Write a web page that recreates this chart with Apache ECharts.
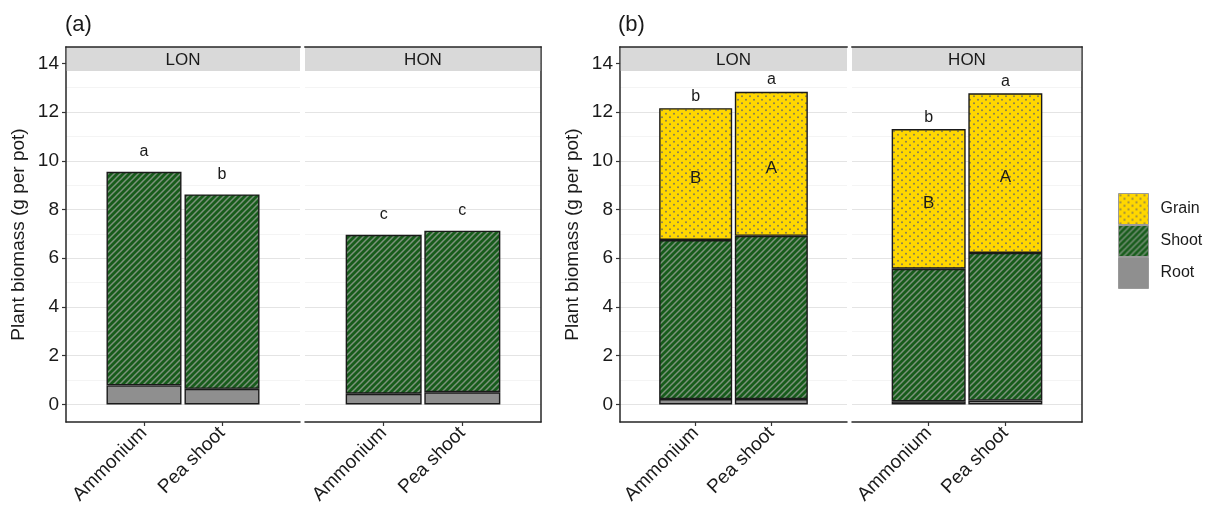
<!DOCTYPE html>
<html>
<head>
<meta charset="utf-8">
<script src="https://cdn.jsdelivr.net/npm/echarts@6/dist/echarts.min.js"></script>
<style>
  html, body { margin: 0; padding: 0; background: #fff; }
  #main { width: 1214px; height: 519px; }
</style>
</head>
<body>
<div id="main"></div>
<script>
// 数据
var categories = ['Ammonium', 'Pea shoot'];
var facetNames = ['LON', 'HON'];
var yTicks = [0, 2, 4, 6, 8, 10, 12, 14];
var yMinorTicks = [1, 3, 5, 7, 9, 11, 13];

// (a) 根 + 茎
var rootA_LON = [0.78, 0.64];
var shootA_LON = [8.77, 7.98];
var lettersA_LON = ['a', 'b'];
var rootA_HON = [0.44, 0.50];
var shootA_HON = [6.52, 6.63];
var lettersA_HON = ['c', 'c'];

// (b) 根 + 茎 + 籽粒
var rootB_LON = [0.22, 0.22];
var shootB_LON = [6.53, 6.70];
var grainB_LON = [5.41, 5.91];
var lettersB_LON = ['b', 'a'];
var grainLettersB_LON = ['B', 'A'];
var rootB_HON = [0.13, 0.16];
var shootB_HON = [5.44, 6.06];
var grainB_HON = [5.73, 6.55];
var lettersB_HON = ['b', 'a'];
var grainLettersB_HON = ['B', 'A'];

(function() {
    var FONT = '"Liberation Sans", Arial, Helvetica, sans-serif';
    var DARK = '#1a1a1a';
    var LINE = '#262626';
    var TOP = 47, BOTTOM = 97, STRIP_H = 24;
    var yMin = -0.72, yMax = 14.67;

    // 斜线填充
    function stripePattern() {
        var s = 6;
        var c = document.createElement('canvas');
        c.width = s; c.height = s;
        var ctx = c.getContext('2d');
        ctx.fillStyle = '#175c1b';
        ctx.fillRect(0, 0, s, s);
        ctx.strokeStyle = '#7c927c';
        ctx.lineWidth = 1.5;
        ctx.beginPath();
        ctx.moveTo(-1, s + 1); ctx.lineTo(s + 1, -1);
        ctx.moveTo(-1, 1); ctx.lineTo(1, -1);
        ctx.moveTo(s - 1, s + 1); ctx.lineTo(s + 1, s - 1);
        ctx.stroke();
        return c;
    }
    // 圆点填充
    function dotPattern() {
        var w = 8, h = 7;
        var c = document.createElement('canvas');
        c.width = w; c.height = h;
        var ctx = c.getContext('2d');
        ctx.fillStyle = '#ffd700';
        ctx.fillRect(0, 0, w, h);
        ctx.fillStyle = '#857c55';
        [[2, 1.75], [6, 5.25]].forEach(function(p) {
            ctx.beginPath();
            ctx.arc(p[0], p[1], 1.0, 0, Math.PI * 2);
            ctx.fill();
        });
        return c;
    }
    var shootFill = { image: stripePattern(), repeat: 'repeat' };
    var grainFill = { image: dotPattern(), repeat: 'repeat' };
    var rootFill = '#8f8f8f';

    // 分面布局
    var facets = [
        { panel: 0, left: 66, right: 300, name: facetNames[0], first: true, last: false,
          root: rootA_LON, shoot: shootA_LON, letters: lettersA_LON },
        { panel: 0, left: 305, right: 541, name: facetNames[1], first: false, last: true,
          root: rootA_HON, shoot: shootA_HON, letters: lettersA_HON },
        { panel: 1, left: 620, right: 847, name: facetNames[0], first: true, last: false,
          root: rootB_LON, shoot: shootB_LON, grain: grainB_LON, letters: lettersB_LON, grainLetters: grainLettersB_LON },
        { panel: 1, left: 852, right: 1082, name: facetNames[1], first: false, last: true,
          root: rootB_HON, shoot: shootB_HON, grain: grainB_HON, letters: lettersB_HON, grainLetters: grainLettersB_HON }
    ];

    // 类别轴两端留空位，使柱子位于 1/3 和 2/3 处
    var axisCats = [''].concat(categories, ['']);

    var grids = [], xAxes = [], yAxes = [], series = [], graphics = [];

    function pad(arr) {
        return ['-'].concat(arr, ['-']);
    }

    facets.forEach(function(f, i) {
        var width = f.right - f.left;
        grids.push({ left: f.left, width: width, top: TOP, bottom: BOTTOM });

        xAxes.push({
            type: 'category', gridIndex: i, data: axisCats, boundaryGap: false,
            axisLine: { show: true, onZero: false, lineStyle: { color: LINE, width: 1.5 } },
            axisTick: {
                show: true, length: 4, lineStyle: { color: '#333', width: 1.2 },
                interval: function(idx) { return idx > 0 && idx <= categories.length; }
            },
            axisLabel: { interval: 0, rotate: 45, fontSize: 19, color: DARK, margin: 8 },
            splitLine: { show: false }
        });

        var majorIdx = yAxes.length;
        yAxes.push({
            type: 'value', gridIndex: i, min: yMin, max: yMax, position: 'left',
            name: f.first ? 'Plant biomass (g per pot)' : '',
            nameLocation: 'middle', nameGap: 38,
            nameTextStyle: { fontSize: 19, color: DARK },
            axisLine: { show: f.first, onZero: false, lineStyle: { color: LINE, width: 1.5 } },
            axisTick: { show: f.first, customValues: yTicks, length: 4, lineStyle: { color: '#333', width: 1.2 } },
            axisLabel: { show: f.first, customValues: yTicks, fontSize: 19, color: DARK, margin: 7 },
            splitLine: { show: true, lineStyle: { color: '#e4e4e4', width: 1.2 } }
        });
        // 次网格线
        yAxes.push({
            type: 'value', gridIndex: i, min: yMin, max: yMax, position: 'left',
            axisLine: { show: false },
            axisTick: { show: false, customValues: yMinorTicks },
            axisLabel: { show: false, customValues: yMinorTicks },
            splitLine: { show: true, lineStyle: { color: '#f1f1f1', width: 0.8 } }
        });
        if (f.last) {
            yAxes.push({
                type: 'value', gridIndex: i, min: yMin, max: yMax, position: 'right',
                axisLine: { show: true, onZero: false, lineStyle: { color: LINE, width: 1.5 } },
                axisTick: { show: false }, axisLabel: { show: false }, splitLine: { show: false }
            });
        }

        var barW = Math.round(0.965 * width / (categories.length + 1));
        var base = {
            type: 'bar', xAxisIndex: i, yAxisIndex: majorIdx, stack: 'total' + i,
            barWidth: barW, emphasis: { disabled: true }
        };
        series.push(Object.assign({}, base, {
            name: 'Root', data: pad(f.root),
            itemStyle: { color: rootFill, borderColor: DARK, borderWidth: 1.4 }
        }));
        series.push(Object.assign({}, base, {
            name: 'Shoot', data: pad(f.shoot),
            itemStyle: { color: shootFill, borderColor: DARK, borderWidth: 1.4 }
        }));
        if (f.grain) {
            series.push(Object.assign({}, base, {
                name: 'Grain', data: pad(f.grain),
                itemStyle: { color: grainFill, borderColor: DARK, borderWidth: 1.4 },
                label: {
                    show: true, position: 'inside', offset: [0, 4], fontSize: 17, color: DARK,
                    textBorderWidth: 0,
                    formatter: function(p) { return f.grainLetters[p.dataIndex - 1]; }
                }
            }));
        }
        // 显著性字母
        series.push(Object.assign({}, base, {
            name: 'letters', data: pad(f.root.map(function() { return 0; })),
            itemStyle: { color: 'rgba(0,0,0,0)', borderWidth: 0 },
            label: {
                show: true, position: 'top', distance: f.panel === 0 ? 12 : 4,
                fontSize: 16, color: DARK,
                formatter: function(p) { return f.letters[p.dataIndex - 1]; }
            }
        }));

        // 分面标题条
        graphics.push({
            type: 'rect', z: 100,
            shape: { x: f.left + (f.first ? 0.75 : 0), y: TOP, width: width - (f.first ? 0.75 : 0) - (f.last ? 0.75 : 0), height: STRIP_H },
            style: { fill: '#d9d9d9' }
        });
        graphics.push({
            type: 'line', z: 101,
            shape: { x1: f.left - 0.75, y1: TOP, x2: f.right + 0.75, y2: TOP },
            style: { stroke: LINE, lineWidth: 1.5 }
        });
        graphics.push({
            type: 'text', z: 102,
            x: f.left + width / 2, y: TOP + STRIP_H / 2 + 1,
            style: { text: f.name, fontSize: 17, fill: DARK, align: 'center', verticalAlign: 'middle', fontFamily: FONT }
        });
    });

    graphics.push({ type: 'text', x: 65, y: 25, style: { text: '(a)', fontSize: 22, fill: DARK, verticalAlign: 'middle', fontFamily: FONT } });
    graphics.push({ type: 'text', x: 618, y: 25, style: { text: '(b)', fontSize: 22, fill: DARK, verticalAlign: 'middle', fontFamily: FONT } });

    var myChart = echarts.init(document.getElementById('main'));
    var option = {
        animation: false,
        textStyle: { fontFamily: FONT },
        grid: grids,
        xAxis: xAxes,
        yAxis: yAxes,
        legend: {
            data: ['Grain', 'Shoot', 'Root'],
            orient: 'vertical', left: 1118, top: 193,
            itemWidth: 30, itemHeight: 31, itemGap: 0, icon: 'rect',
            selectedMode: false, padding: 0,
            itemStyle: { borderColor: '#9a9a9a', borderWidth: 1 },
            textStyle: { fontSize: 16, color: DARK, padding: [0, 0, 0, 7] }
        },
        graphic: graphics,
        series: series
    };
    myChart.setOption(option);
})();
</script>
</body>
</html>
